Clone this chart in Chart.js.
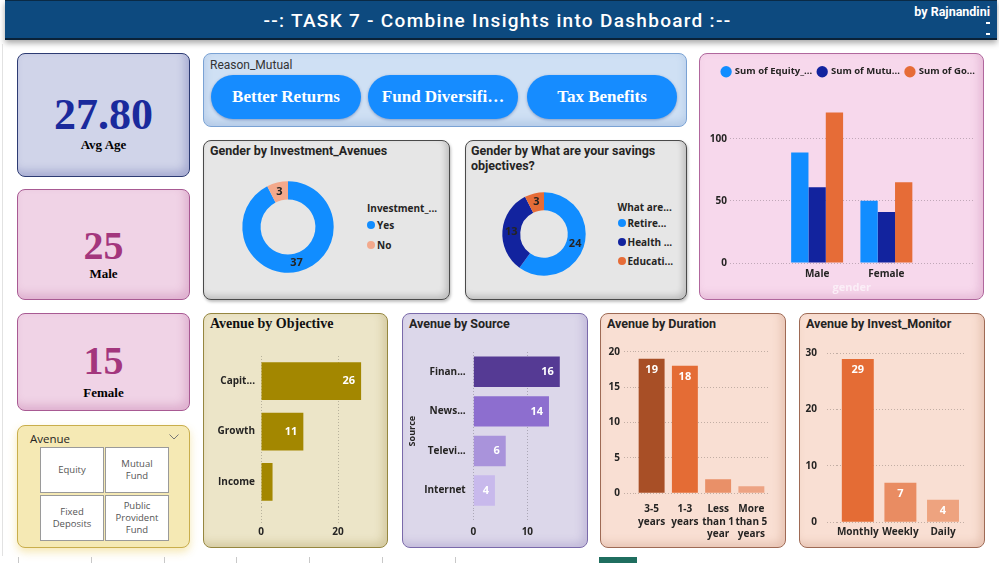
<!DOCTYPE html>
<html><head><meta charset="utf-8">
<script src="https://cdn.jsdelivr.net/npm/chart.js@4.4.1/dist/chart.umd.min.js"></script>
<style>
html,body{margin:0;padding:0;}
body{width:999px;height:563px;position:relative;overflow:hidden;background:#fff;font-family:Roboto,'Open Sans',sans-serif;}
.a{position:absolute;box-sizing:border-box;}
.card{position:absolute;box-sizing:border-box;border:1px solid;border-radius:8px;}
canvas{position:absolute;}
.ttl{position:absolute;font-family:Roboto,sans-serif;font-weight:700;font-size:12.5px;color:#252423;line-height:14.5px;white-space:nowrap;}
.kv{position:absolute;left:0;width:100%;text-align:center;font-family:'Liberation Serif','Times New Roman',serif;font-weight:700;white-space:nowrap;}
.pill{position:absolute;box-sizing:border-box;height:44px;border-radius:22px;background:#168cff;color:#fff;text-align:center;line-height:44px;font-family:'Liberation Serif',serif;font-weight:700;font-size:17px;box-shadow:0 1px 3px rgba(0,40,120,.35);}
.tile{position:absolute;box-sizing:border-box;background:#fff;border:1px solid #9a9a9a;display:flex;align-items:center;justify-content:center;text-align:center;font-family:'Open Sans',sans-serif;font-size:9.5px;line-height:12px;color:#555;}
.lg{position:absolute;font:700 10px 'Open Sans',sans-serif;color:#252423;white-space:nowrap;line-height:14px;}
.dot{position:absolute;width:8px;height:8px;border-radius:50%;}
</style></head><body>

<!-- header -->
<div class="a" style="left:5px;top:0;width:992px;height:40px;background:#0d4a7f;border-top:1px solid #0a2a45;border-bottom:2px solid #0a2238;box-shadow:0 3px 6px rgba(0,0,0,.35);"></div>
<div class="a" id="pageTitle" style="left:5px;top:2px;width:985px;height:38px;line-height:37px;text-align:center;color:#fff;font-family:Roboto,sans-serif;font-weight:500;font-size:19px;letter-spacing:1.3px;"></div>
<div class="a" id="author" style="left:860px;width:130px;text-align:right;top:4px;color:#fff;font:700 12.5px Roboto,sans-serif;"></div>
<div class="a" style="left:986px;top:22px;width:4px;height:2px;background:#fff;"></div>
<div class="a" style="left:986px;top:33px;width:4px;height:2px;background:#fff;"></div>
<div class="a" style="left:2px;top:44px;width:1px;height:512px;background:#e2e2e2;"></div>

<!-- KPI cards -->
<div id="kpis"></div>

<!-- slicer -->
<div class="card" style="left:17px;top:425px;width:173px;height:123px;background:#f5e9b4;border-color:#c9ae4c;box-shadow:0 4px 8px rgba(235,205,90,.45);">
  <div class="a" id="slicerTitle" style="left:12px;top:5px;font:400 11.5px 'Open Sans',sans-serif;color:#252423;"></div>
  <svg class="a" style="left:151px;top:8px" width="10" height="6"><polyline points="0.5,0.5 5,5 9.5,0.5" fill="none" stroke="#777" stroke-width="1"/></svg>
</div>
<div id="tiles"></div>

<!-- Reason_Mutual -->
<div class="card" style="left:203px;top:53px;width:484px;height:74px;background:#cfe0f4;border-color:#7aa2d4;box-shadow:inset 0 -4px 8px rgba(90,130,190,.25);"></div>
<div class="a" id="reasonTitle" style="left:210px;top:58px;font:400 12px Roboto,sans-serif;color:#333;"></div>
<div id="pills"></div>

<!-- donut cards -->
<div class="card" style="left:203px;top:140px;width:247px;height:160px;background:#e6e6e6;border-color:#4a4a4a;box-shadow:inset -3px -3px 6px rgba(0,0,0,.18),1px 2px 3px rgba(0,0,0,.25);"></div>
<div class="ttl" style="left:210px;top:144px;">Gender by Investment_Avenues</div>
<canvas id="c1" width="120" height="120" style="left:228px;top:167px;"></canvas>
<div id="lg1"></div>

<div class="card" style="left:465px;top:140px;width:222px;height:160px;background:#e6e6e6;border-color:#4a4a4a;box-shadow:inset -3px -3px 6px rgba(0,0,0,.18),1px 2px 3px rgba(0,0,0,.25);"></div>
<div class="ttl" style="left:471px;top:144px;">Gender by What are your savings<br>objectives?</div>
<canvas id="c2" width="120" height="120" style="left:484px;top:174px;"></canvas>
<div id="lg2"></div>

<!-- top right -->
<div class="card" style="left:699px;top:53px;width:285px;height:247px;background:#f7d8ec;border-color:#b0679d;box-shadow:inset -4px -4px 8px rgba(170,80,140,.22);"></div>
<canvas id="c3" width="283" height="235" style="left:707px;top:61px;"></canvas>

<!-- bottom cards -->
<div class="card" style="left:203px;top:313px;width:185px;height:235px;background:#ece5c8;border-color:#958640;box-shadow:inset -4px -4px 8px rgba(140,120,40,.25);"></div>
<div class="a" style="left:210px;top:316px;font:700 14px 'Liberation Serif',serif;color:#111;">Avenue by Objective</div>
<canvas id="c4" width="180" height="189" style="left:206px;top:356px;"></canvas>

<div class="card" style="left:402px;top:313px;width:186px;height:235px;background:#dcd7ea;border-color:#7a6aaa;box-shadow:inset -4px -4px 8px rgba(100,80,160,.22);"></div>
<div class="ttl" style="left:409px;top:317px;">Avenue by Source</div>
<canvas id="c5" width="181" height="193" style="left:405px;top:352px;"></canvas>

<div class="card" style="left:600px;top:313px;width:186px;height:235px;background:#f9dfd3;border-color:#9e6a55;box-shadow:inset -4px -4px 8px rgba(170,100,70,.22);"></div>
<div class="ttl" style="left:607px;top:317px;">Avenue by Duration</div>
<canvas id="c6" width="179" height="207" style="left:603px;top:338px;"></canvas>

<div class="card" style="left:799px;top:313px;width:186px;height:235px;background:#f9dfd3;border-color:#9e6a55;box-shadow:inset -4px -4px 8px rgba(170,100,70,.22);"></div>
<div class="ttl" style="left:806px;top:317px;">Avenue by Invest_Monitor</div>
<canvas id="c7" width="182" height="205" style="left:801px;top:340px;"></canvas>

<!-- page tabs strip -->
<div id="tabs"></div>
<div class="a" style="left:599px;top:557px;width:38px;height:6px;background:#1f6e5f;"></div>

<script>
// ---------------- data ----------------
const pageTitle = '--: TASK 7 - Combine Insights into Dashboard :--';
const authorText = 'by Rajnandini';
const kpiValues = ['27.80', '25', '15'];
const kpiLabels = ['Avg Age', 'Male', 'Female'];
const slicerTitle = 'Avenue';
const avenueOptions = [['Equity'], ['Mutual', 'Fund'], ['Fixed', 'Deposits'], ['Public', 'Provident', 'Fund']];
const reasonTitle = 'Reason_Mutual';
const reasonOptions = ['Better Returns', 'Fund Diversifi…', 'Tax Benefits'];

const investLabels = ['Yes', 'No'];
const investValues = [37, 3];
const investLegendTitle = 'Investment_...';

const savingsLabels = ['Retire...', 'Health ...', 'Educati...'];
const savingsValues = [24, 13, 3];
const savingsLegendTitle = 'What are...';

const genderCats = ['Male', 'Female'];
const seriesNames = ['Sum of Equity_...', 'Sum of Mutu...', 'Sum of Go...'];
const sumEquity = [89, 50];
const sumMutual = [61, 41];
const sumGov = [121, 65];

const objectiveCats = ['Capit...', 'Growth', 'Income'];
const objectiveVals = [26, 11, 3];
const sourceCats = ['Finan...', 'News...', 'Televi...', 'Internet'];
const sourceVals = [16, 14, 6, 4];
const durationCats = [['3-5', 'years'], ['1-3', 'years'], ['Less', 'than 1', 'year'], ['More', 'than 5', 'years']];
const durationVals = [19, 18, 2, 1];
const monitorCats = ['Monthly', 'Weekly', 'Daily'];
const monitorVals = [29, 7, 4];

// ---------------- styles ----------------
const investColors = ['#118dff', '#f3a98c'];
const savingsColors = ['#118dff', '#12239e', '#e66c37'];

// ---------------- static text ----------------
document.getElementById('pageTitle').textContent = pageTitle;
document.getElementById('author').textContent = authorText;
document.getElementById('slicerTitle').textContent = slicerTitle;
document.getElementById('reasonTitle').textContent = reasonTitle;

const kpiBoxes = [
  {top: 53, h: 124, bg: '#d0d4e9', bd: '#2d3b73', sh: 'rgba(60,70,150,.28)', col: '#1a2a9c', size: 44, vc: 61, lc: 91},
  {top: 189, h: 111, bg: '#f0d3e6', bd: '#a85a93', sh: 'rgba(170,70,140,.25)', col: '#a3367d', size: 40, vc: 56, lc: 84},
  {top: 313, h: 98, bg: '#f0d3e6', bd: '#a85a93', sh: 'rgba(170,70,140,.25)', col: '#a3367d', size: 40, vc: 47, lc: 78.5}
];
const kpiHost = document.getElementById('kpis');
kpiBoxes.forEach((b, i) => {
  const d = document.createElement('div');
  d.className = 'card';
  d.style.cssText = `left:17px;top:${b.top}px;width:173px;height:${b.h}px;background:${b.bg};border-color:${b.bd};box-shadow:inset -4px -5px 9px ${b.sh};`;
  const v = document.createElement('div');
  v.className = 'kv';
  v.style.cssText += `top:${b.vc - b.size * 0.6}px;height:${b.size * 1.2}px;line-height:${b.size * 1.2}px;font-size:${b.size}px;color:${b.col};`;
  v.textContent = kpiValues[i];
  const l = document.createElement('div');
  l.className = 'kv';
  l.style.cssText += `top:${b.lc - 8}px;height:16px;line-height:16px;font-size:13px;color:#000;`;
  l.textContent = kpiLabels[i];
  d.appendChild(v); d.appendChild(l);
  kpiHost.appendChild(d);
});

const tilePos = [[40, 447], [105, 447], [40, 495], [105, 495]];
const tileHost = document.getElementById('tiles');
avenueOptions.forEach((t, i) => {
  const d = document.createElement('div');
  d.className = 'tile';
  d.style.cssText = `left:${tilePos[i][0]}px;top:${tilePos[i][1]}px;width:64px;height:46px;`;
  d.innerHTML = t.join('<br>');
  tileHost.appendChild(d);
});

const pillPos = [211, 368, 527];
const pillHost = document.getElementById('pills');
reasonOptions.forEach((t, i) => {
  const d = document.createElement('div');
  d.className = 'pill';
  d.style.cssText = `left:${pillPos[i]}px;top:75px;width:150px;`;
  d.textContent = t;
  pillHost.appendChild(d);
});

const tabXs = [18, 91, 164, 236, 309, 382, 455];
const tabHost = document.getElementById('tabs');
tabXs.forEach(x => {
  const d = document.createElement('div');
  d.className = 'a';
  d.style.cssText = `left:${x}px;top:557px;width:1px;height:6px;background:#c8c8c8;`;
  tabHost.appendChild(d);
});

// HTML legends for the donuts
function htmlLegend(hostId, title, labels, colors, x, titleY, itemYs) {
  const host = document.getElementById(hostId);
  const t = document.createElement('div');
  t.className = 'lg';
  t.style.cssText = `left:${x}px;top:${titleY - 7}px;`;
  t.textContent = title;
  host.appendChild(t);
  labels.forEach((lab, i) => {
    const dot = document.createElement('div');
    dot.className = 'dot';
    dot.style.cssText = `left:${x}px;top:${itemYs[i] - 4}px;background:${colors[i]};`;
    const tx = document.createElement('div');
    tx.className = 'lg';
    tx.style.cssText = `left:${x + 10}px;top:${itemYs[i] - 7}px;`;
    tx.textContent = lab;
    host.appendChild(dot); host.appendChild(tx);
  });
}
htmlLegend('lg1', investLegendTitle, investLabels, investColors, 367, 208, [224.5, 244.5]);
htmlLegend('lg2', savingsLegendTitle, savingsLabels, savingsColors, 617.5, 207, [223, 242, 261]);

// ---------------- charts ----------------
Chart.defaults.font.family = "'Open Sans', sans-serif";
Chart.defaults.color = '#252423';
Chart.defaults.animation = false;

const dotColor = 'rgba(0,0,0,0.22)';
const keepMultiples = step => s => { s.ticks = s.ticks.filter(t => Math.abs(t.value % step) < 1e-9); };
const fixW = w => s => { s.width = w; s.paddingTop = 0; s.paddingBottom = 0; };
const fixH = h => s => { s.height = h; s.paddingLeft = 0; s.paddingRight = 0; };
const boldFont = (size) => ({size: size, weight: 'bold'});

const valueLabels = {
  id: 'valueLabels',
  afterDatasetsDraw(chart, args, o) {
    const ctx = chart.ctx;
    ctx.save();
    ctx.font = o.fnt;
    ctx.fillStyle = o.color;
    chart.data.datasets.forEach((ds, di) => {
      const meta = chart.getDatasetMeta(di);
      meta.data.forEach((el, i) => {
        const txt = String(ds.data[i]);
        if (meta.type === 'doughnut') {
          const p = el.getCenterPoint();
          ctx.textAlign = 'center'; ctx.textBaseline = 'middle';
          ctx.fillText(txt, p.x, p.y);
        } else if (chart.options.indexAxis === 'y') {
          if (Math.abs(el.x - el.base) < o.min) return;
          ctx.textAlign = 'right'; ctx.textBaseline = 'middle';
          ctx.fillText(txt, el.x - o.pad, el.y);
        } else {
          if (Math.abs(el.base - el.y) < o.min) return;
          ctx.textAlign = 'center'; ctx.textBaseline = 'middle';
          ctx.fillText(txt, el.x, el.y + o.pad);
        }
      });
    });
    ctx.restore();
  }
};

function donut(id, labels, values, colors, radius, cutout) {
  return new Chart(document.getElementById(id), {
    type: 'doughnut',
    data: {labels: labels, datasets: [{data: values, backgroundColor: colors, borderWidth: 0, radius: radius, cutout: cutout}]},
    options: {
      responsive: false,
      layout: {padding: 0},
      plugins: {
        legend: {display: false},
        tooltip: {enabled: false},
        valueLabels: {fnt: "bold 11px 'Open Sans', sans-serif", color: '#252423', pad: 0, min: 0}
      }
    },
    plugins: [valueLabels]
  });
}

donut('c1', investLabels, investValues, investColors, 45.7, '60%');
donut('c2', savingsLabels, savingsValues, savingsColors, 41.7, '57%');

// gender clustered bars
new Chart(document.getElementById('c3'), {
  type: 'bar',
  data: {
    labels: genderCats,
    datasets: [
      {label: seriesNames[0], data: sumEquity, backgroundColor: '#118dff'},
      {label: seriesNames[1], data: sumMutual, backgroundColor: '#12239e'},
      {label: seriesNames[2], data: sumGov, backgroundColor: '#e66c37'}
    ]
  },
  options: {
    responsive: false,
    layout: {padding: {left: 0, right: 0, top: 0, bottom: 1}},
    datasets: {bar: {categoryPercentage: 0.75, barPercentage: 1}},
    scales: {
      x: {
        grid: {display: false, drawTicks: false}, border: {display: false},
        ticks: {font: boldFont(10), padding: 5},
        title: {display: true, text: 'gender', color: '#fbeef7', font: boldFont(11), padding: {top: 0, bottom: 1}},
        afterFit: fixH(32)
      },
      y: {
        min: 0, max: 142,
        ticks: {stepSize: 50, font: boldFont(10), padding: 3, includeBounds: false},
        grid: {color: dotColor, drawTicks: true, tickLength: 52.5, tickColor: dotColor, tickBorderDash: [1, 2]},
        border: {display: false, dash: [1, 2]},
        afterBuildTicks: keepMultiples(50),
        afterFit: fixW(75.5)
      },
      yR: {
        position: 'right', min: 0, max: 142,
        ticks: {stepSize: 50, padding: 0, includeBounds: false, callback: () => ''},
        grid: {drawOnChartArea: false, drawTicks: true, tickLength: 53, tickColor: dotColor, tickBorderDash: [1, 2]},
        border: {display: false},
        afterBuildTicks: keepMultiples(50),
        afterFit: fixW(69)
      }
    },
    plugins: {
      legend: {
        position: 'top', align: 'center',
        labels: {usePointStyle: true, pointStyle: 'circle', boxWidth: 8, boxHeight: 8, padding: 6, font: {size: 9.5, weight: 'bold'}, color: '#252423'}
      },
      tooltip: {enabled: false}
    }
  }
});

function hbar(id, cats, vals, colors, o) {
  return new Chart(document.getElementById(id), {
    type: 'bar',
    data: {labels: cats, datasets: [{data: vals, backgroundColor: colors, categoryPercentage: 1, barPercentage: o.bp}]},
    options: {
      indexAxis: 'y',
      responsive: false,
      layout: {padding: o.padding},
      scales: {
        x: {
          min: 0, max: o.max,
          ticks: {stepSize: o.step, font: boldFont(10), padding: o.tickPad, includeBounds: false},
          grid: {color: dotColor, drawTicks: true, tickLength: o.tickLen, tickColor: dotColor, tickBorderDash: [1, 2]},
          border: {display: false, dash: [1, 2]},
          afterBuildTicks: keepMultiples(o.step),
          afterFit: fixH(o.xh)
        },
        y: {
          grid: {display: false, drawTicks: false}, border: {display: false},
          ticks: {font: boldFont(10), padding: o.ypad},
          title: o.ytitle ? {display: true, text: o.ytitle, font: boldFont(9), padding: {top: 2.5, bottom: 0}} : {display: false},
          afterFit: fixW(o.yw)
        }
      },
      plugins: {
        legend: {display: false}, tooltip: {enabled: false},
        valueLabels: {fnt: "bold 11px 'Open Sans', sans-serif", color: '#ffffff', pad: 6, min: 15}
      }
    },
    plugins: [valueLabels]
  });
}

hbar('c4', objectiveCats, objectiveVals, '#a38700',
  {bp: 0.75, max: 30, step: 20, tickPad: 3, tickLen: 16, xh: 38, yw: 55, ypad: 6, padding: {left: 0, right: 9.5, top: 0, bottom: 0}});
hbar('c5', sourceCats, sourceVals, ['#553a94', '#8d6ecf', '#a993db', '#c8b9ec'],
  {bp: 0.77, max: 19, step: 10, tickPad: 6, tickLen: 10, xh: 34.7, yw: 68.3, ypad: 7.6, ytitle: 'Source', padding: {left: 0, right: 10, top: 0, bottom: 0}});

function vbar(id, cats, vals, colors, o) {
  return new Chart(document.getElementById(id), {
    type: 'bar',
    data: {labels: cats, datasets: [{data: vals, backgroundColor: colors, categoryPercentage: 1, barPercentage: o.bp}]},
    options: {
      responsive: false,
      layout: {padding: o.padding},
      scales: {
        x: {
          grid: {display: false, drawTicks: false}, border: {display: false},
          ticks: {font: {size: 10, weight: 'bold', lineHeight: 1.25}, padding: o.tickPad, maxRotation: 0, autoSkip: false},
          afterFit: fixH(o.xh)
        },
        y: {
          min: 0, max: o.max,
          ticks: {stepSize: o.step, font: boldFont(10), padding: o.ypad, includeBounds: false},
          grid: {color: dotColor, drawTicks: true, tickLength: o.tickLen, tickColor: dotColor, tickBorderDash: [1, 2]},
          border: {display: false, dash: [1, 2]},
          afterBuildTicks: keepMultiples(o.step),
          afterFit: fixW(o.yw)
        }
      },
      plugins: {
        legend: {display: false}, tooltip: {enabled: false},
        valueLabels: {fnt: "bold 11px 'Open Sans', sans-serif", color: '#ffffff', pad: 11, min: 18}
      }
    },
    plugins: [valueLabels]
  });
}

vbar('c6', durationCats, durationVals, ['#a84f26', '#e46c35', '#e99068', '#eda383'],
  {bp: 0.78, max: 21, step: 5, tickPad: 9.7, xh: 51.7, yw: 32, tickLen: 11, ypad: 4, padding: {left: 0, right: 14, top: 6.6, bottom: 0}});
vbar('c7', monitorCats, monitorVals, ['#e46c35', '#e98c62', '#eea37f'],
  {bp: 0.75, max: 31, step: 10, tickPad: 3.4, xh: 22.7, yw: 35.5, tickLen: 9.5, ypad: 10, padding: {left: 0, right: 18.7, top: 7.7, bottom: 0}});
</script>
</body></html>
